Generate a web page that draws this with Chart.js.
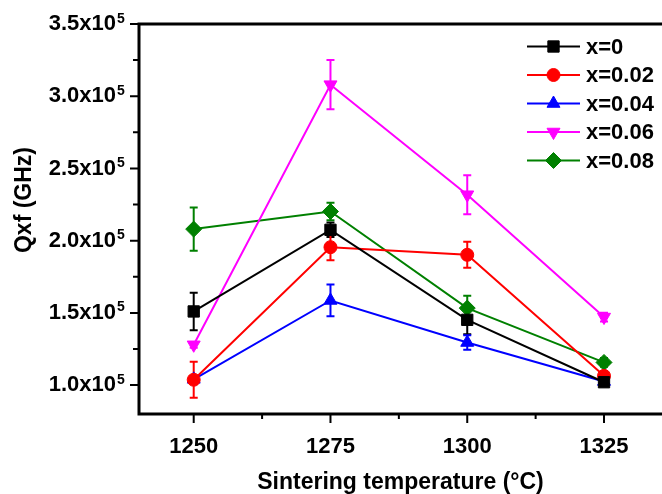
<!DOCTYPE html>
<html lang="en">
<head>
<meta charset="UTF-8">
<title>Qxf vs sintering temperature</title>
<script src="https://cdn.jsdelivr.net/npm/chart.js@4.4.0/dist/chart.umd.min.js"></script>
<style>
  html, body { margin: 0; padding: 0; background: #fff; overflow: hidden; }
</style>
</head>
<body>
<canvas id="qf-chart" width="662" height="494"></canvas>
<script>
  // sintering temperatures (x axis)
  const temps = [1250, 1275, 1300, 1325];
  const labels = ['x=0', 'x=0.02', 'x=0.04', 'x=0.06', 'x=0.08'];

  // Qxf values (GHz) and error bars
  const qf_x0   = [151000, 207500, 145200, 102000];
  const qf_x002 = [103700, 195500, 190200, 106400];
  const qf_x004 = [104000, 158600, 129500, 102500];
  const qf_x006 = [127900, 308000, 231800, 147100];
  const qf_x008 = [208000, 220200, 153300, 115700];

  const err_x0   = [13000, 5000, 10000, 2000];
  const err_x002 = [12500, 9000, 9000, 2000];
  const err_x004 = [1000, 11000, 5000, 2000];
  const err_x006 = [2000, 17000, 13500, 3000];
  const err_x008 = [15000, 6000, 8500, 3000];

  const yTicks = [100000, 150000, 200000, 250000, 300000, 350000];

  const colors = ['#000000', '#ff0000', '#0000ff', '#ff00ff', '#008000'];
  const styles = ['rect', 'circle', 'triangle', 'triangle', 'rectRot'];
  const rotations = [0, 0, 0, 180, 0];
  const radii = [8, 6.5, 7.5, 7.5, 8];

  const FONT = "'Liberation Sans', Arial, sans-serif";

  const allValues = [qf_x0, qf_x002, qf_x004, qf_x006, qf_x008];
  const allErrors = [err_x0, err_x002, err_x004, err_x006, err_x008];

  const datasets = allValues.map((vals, i) => ({
    label: labels[i],
    data: temps.map((t, j) => ({ x: t, y: vals[j] })),
    errors: allErrors[i],
    borderColor: colors[i],
    backgroundColor: colors[i],
    borderWidth: 2,
    pointStyle: styles[i],
    pointRotation: rotations[i],
    pointRadius: radii[i],
    pointBorderWidth: 1,
    pointBackgroundColor: colors[i],
    tension: 0
  }));

  // vertical error bars with caps
  const errorBars = {
    id: 'errorBars',
    beforeDatasetsDraw(chart) {
      const { ctx, scales: { x, y } } = chart;
      ctx.save();
      ctx.lineWidth = 2;
      chart.data.datasets.forEach(ds => {
        ctx.strokeStyle = ds.borderColor;
        ds.data.forEach((p, j) => {
          const e = ds.errors[j];
          const px = x.getPixelForValue(p.x);
          const top = y.getPixelForValue(p.y + e);
          const bot = y.getPixelForValue(p.y - e);
          ctx.beginPath();
          ctx.moveTo(px, top); ctx.lineTo(px, bot);
          ctx.moveTo(px - 4, top); ctx.lineTo(px + 4, top);
          ctx.moveTo(px - 4, bot); ctx.lineTo(px + 4, bot);
          ctx.stroke();
        });
      });
      ctx.restore();
    }
  };

  // axis frame, major/minor ticks, exponent, y title, legend
  const frame = {
    id: 'frame',
    afterDraw(chart) {
      const { ctx, chartArea: a, scales: { x, y } } = chart;
      ctx.save();
      ctx.strokeStyle = '#000';
      ctx.lineWidth = 3;
      ctx.beginPath();
      ctx.moveTo(a.right + 2, a.top);
      ctx.lineTo(a.left, a.top);
      ctx.lineTo(a.left, a.bottom);
      ctx.lineTo(a.right + 2, a.bottom);
      ctx.stroke();

      ctx.lineWidth = 2;
      ctx.beginPath();
      temps.forEach((t, i) => {
        const px = x.getPixelForValue(t);
        ctx.moveTo(px, a.bottom); ctx.lineTo(px, a.bottom + 9);
        if (i < temps.length - 1) {
          const pm = x.getPixelForValue((t + temps[i + 1]) / 2);
          ctx.moveTo(pm, a.bottom); ctx.lineTo(pm, a.bottom + 5);
        }
      });
      yTicks.forEach((v, i) => {
        const py = y.getPixelForValue(v);
        ctx.moveTo(a.left, py); ctx.lineTo(a.left - 9, py);
        if (i < yTicks.length - 1) {
          const pm = y.getPixelForValue((v + yTicks[i + 1]) / 2);
          ctx.moveTo(a.left, pm); ctx.lineTo(a.left - 6, pm);
        }
      });
      ctx.stroke();

      // exponent of the y tick labels
      ctx.fillStyle = '#000';
      ctx.font = 'bold 14px ' + FONT;
      ctx.textAlign = 'left';
      ctx.textBaseline = 'alphabetic';
      yTicks.forEach(v => {
        ctx.fillText('5', a.left - 22, y.getPixelForValue(v) - 1.5);
      });

      // y axis title
      ctx.font = 'bold 23px ' + FONT;
      ctx.textAlign = 'center';
      ctx.textBaseline = 'middle';
      ctx.translate(25, 200);
      ctx.rotate(-Math.PI / 2);
      ctx.fillText('Qxf (GHz)', 0, 0);
      ctx.setTransform(1, 0, 0, 1, 0, 0);

      // legend
      ctx.font = 'bold 22px ' + FONT;
      ctx.textAlign = 'left';
      chart.data.datasets.forEach((ds, i) => {
        const ly = 46.5 + i * 28.5;
        ctx.strokeStyle = ds.borderColor;
        ctx.lineWidth = 2;
        ctx.beginPath();
        ctx.moveTo(527, ly); ctx.lineTo(580, ly);
        ctx.stroke();
        ctx.fillStyle = ds.borderColor;
        ctx.lineWidth = 1;
        Chart.helpers.drawPoint(ctx, {
          pointStyle: ds.pointStyle, rotation: ds.pointRotation, radius: ds.pointRadius, borderWidth: 1
        }, 553.5, ly);
        ctx.fillStyle = '#000';
        ctx.fillText(ds.label, 586, ly + 1);
      });
      ctx.restore();
    }
  };

  const chart = new Chart(document.getElementById('qf-chart'), {
    type: 'line',
    data: { datasets: datasets },
    plugins: [errorBars, frame],
    options: {
      responsive: false,
      animation: false,
      devicePixelRatio: 1,
      layout: { autoPadding: false, padding: { top: 24, right: 0, left: 0, bottom: 0 } },
      plugins: { legend: { display: false }, tooltip: { enabled: false } },
      scales: {
        x: {
          type: 'linear',
          min: 1240,
          max: 1335.6,
          afterBuildTicks: s => { s.ticks = temps.map(v => ({ value: v })); },
          afterFit: s => { s.height = 80; s.paddingLeft = 0; s.paddingRight = 0; },
          grid: { display: false, drawTicks: false },
          border: { display: false },
          ticks: {
            padding: 20,
            color: '#000',
            font: { family: FONT, size: 22, weight: 'bold' },
            callback: v => String(v)
          },
          title: {
            display: true,
            text: 'Sintering temperature (°C)',
            color: '#000',
            font: { family: FONT, size: 23, weight: 'bold', lineHeight: 1 },
            padding: { top: 0, bottom: 0 }
          }
        },
        y: {
          min: 80000,
          max: 350000,
          afterBuildTicks: s => { s.ticks = yTicks.map(v => ({ value: v })); },
          afterFit: s => { s.width = 139; s.paddingTop = 0; s.paddingBottom = 0; },
          grid: { display: false, drawTicks: false },
          border: { display: false },
          ticks: {
            padding: 23,
            color: '#000',
            font: { family: FONT, size: 22, weight: 'bold' },
            callback: v => (v / 100000).toFixed(1) + 'x10'
          }
        }
      }
    }
  });
</script>
</body>
</html>
